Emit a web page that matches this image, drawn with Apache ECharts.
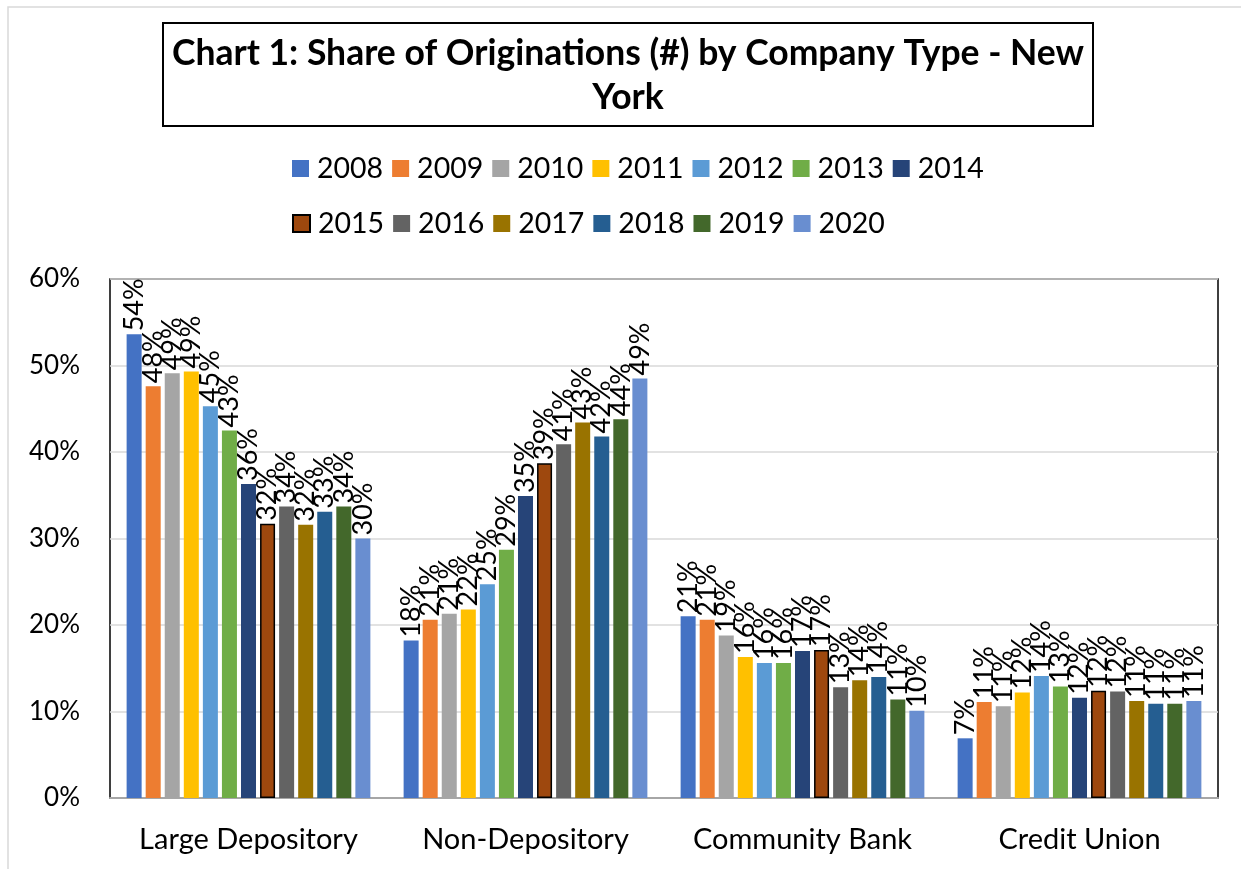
<!DOCTYPE html>
<html>
<head>
<meta charset="utf-8">
<script src="https://cdn.jsdelivr.net/npm/echarts@6/dist/echarts.min.js"></script>
<style>
  html, body { margin: 0; padding: 0; background: #fff; }
  #chart { width: 1241px; height: 869px; }
</style>
</head>
<body>
<div id="chart"></div>
<script>
var categories = ["Large Depository", "Non-Depository", "Community Bank", "Credit Union"];
var years = ["2008", "2009", "2010", "2011", "2012", "2013", "2014", "2015", "2016", "2017", "2018", "2019", "2020"];
var colors = ["#4472C4", "#ED7D31", "#A5A5A5", "#FFC000", "#5B9BD5", "#70AD47", "#264478",
    "#9E480E", "#636363", "#997300", "#255E91", "#43682B", "#698ED0"];

// share (%) per year, order: Large Depository, Non-Depository, Community Bank, Credit Union
var v2008 = [53.6, 18.2, 21.0, 6.9];
var v2009 = [47.6, 20.6, 20.6, 11.1];
var v2010 = [49.1, 21.3, 18.8, 10.6];
var v2011 = [49.3, 21.8, 16.3, 12.2];
var v2012 = [45.3, 24.7, 15.6, 14.1];
var v2013 = [42.5, 28.7, 15.6, 12.9];
var v2014 = [36.3, 34.9, 17.0, 11.6];
var v2015 = [31.7, 38.7, 17.1, 12.4];
var v2016 = [33.7, 40.9, 12.8, 12.3];
var v2017 = [31.6, 43.4, 13.6, 11.2];
var v2018 = [33.1, 41.8, 14.0, 10.9];
var v2019 = [33.7, 43.8, 11.4, 10.9];
var v2020 = [30.0, 48.5, 10.1, 11.2];
var values = [v2008, v2009, v2010, v2011, v2012, v2013, v2014, v2015, v2016, v2017, v2018, v2019, v2020];

var yTicks = { min: 0, max: 60, interval: 10 };

var font = "Lato";
var myChart = echarts.init(document.getElementById("chart"));

//生成系列
var series = [];
for (var i = 0; i < years.length; i++) {
    var itemStyle = { color: colors[i] };
    if (years[i] == "2015") {
        itemStyle.borderColor = "#000";
        itemStyle.borderWidth = 1.5;
    }
    series.push({
        name: years[i],
        type: "bar",
        data: values[i],
        barGap: "27%",
        barCategoryGap: "12%",
        itemStyle: itemStyle,
        label: {
            show: true,
            position: "top",
            rotate: 90,
            align: "left",
            verticalAlign: "middle",
            distance: 3,
            fontFamily: font,
            fontSize: 27,
            color: "#000",
            formatter: function(p) {
                return Math.round(p.value) + "%";
            }
        }
    });
}

var legendCommon = {
    left: 287,
    itemWidth: 17,
    itemHeight: 17,
    itemGap: 9,
    icon: "rect",
    textStyle: { fontFamily: font, fontSize: 28.5, color: "#000", padding: [0, 0, 0, 3] }
};

var option = {
    animation: false,
    title: {
        text: "Chart 1: Share of Originations (#) by Company Type - New\nYork",
        left: 619,
        textAlign: "center",
        top: 23,
        padding: [9, 9, 6, 9],
        borderColor: "#000",
        borderWidth: 2,
        textStyle: {
            fontFamily: font,
            fontSize: 35.5,
            fontWeight: "bold",
            color: "#000",
            lineHeight: 44
        }
    },
    legend: [
        Object.assign({}, legendCommon, { top: 149, data: years.slice(0, 7) }),
        Object.assign({}, legendCommon, { top: 204, data: years.slice(7) })
    ],
    grid: {
        left: 110,
        right: 23,
        top: 279,
        bottom: 71,
        show: true,
        borderColor: "#000",
        borderWidth: 1.5
    },
    xAxis: {
        type: "category",
        data: categories,
        axisTick: { show: false },
        axisLine: { lineStyle: { color: "#a6a6a6", width: 2 } },
        axisLabel: { interval: 0, fontFamily: font, fontSize: 29, color: "#000", margin: 27 }
    },
    yAxis: {
        type: "value",
        min: yTicks.min,
        max: yTicks.max,
        interval: yTicks.interval,
        axisLine: { show: false },
        axisTick: { show: false },
        splitLine: { lineStyle: { color: "#d9d9d9", width: 1.5 } },
        axisLabel: { fontFamily: font, fontSize: 26, color: "#000", margin: 30, formatter: "{value}%" }
    },
    graphic: [{
        type: "rect",
        shape: { x: 8, y: 7, width: 1240, height: 870 },
        style: { fill: "none", stroke: "#d9d9d9", lineWidth: 1.5 },
        silent: true
    }],
    series: series
};

myChart.setOption(option);
</script>
</body>
</html>
